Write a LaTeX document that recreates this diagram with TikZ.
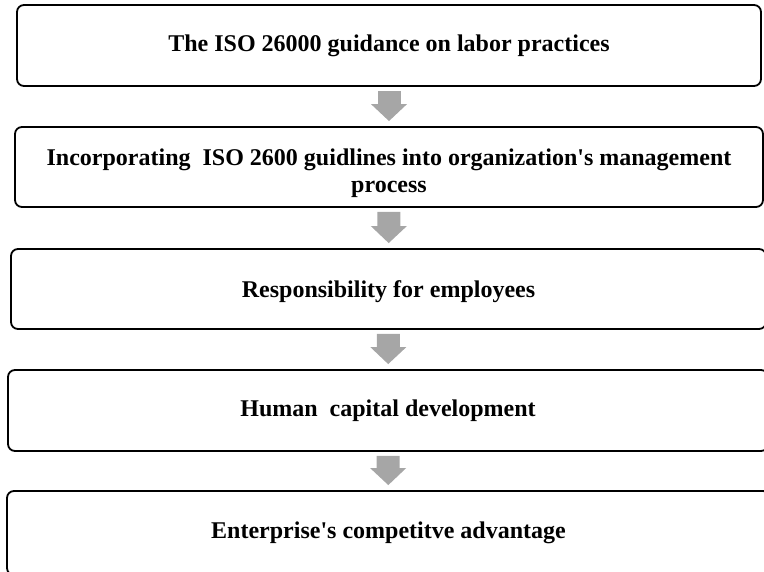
\documentclass[tikz,border=0pt]{standalone}
\usepackage{fontspec}
\setmainfont{Liberation Serif}
\usetikzlibrary{arrows.meta}
\definecolor{arrowgray}{RGB}{166,166,166}
\tikzset{
  stagebox/.style={draw,line width=1.8pt,rounded corners=7pt,align=center,
    font=\bfseries\fontsize{24}{27}\selectfont,inner sep=0pt},
  flowarrow/.style={draw=arrowgray,line width=23pt,
    -{Triangle[width=35pt,length=17pt]},shorten <=4pt,shorten >=5pt}
}
\begin{document}
\begin{tikzpicture}[x=1pt,y=-1pt]
  \useasboundingbox (0,0) rectangle (764,571);
  \clip (0,0) rectangle (764,571);
  \node[stagebox,minimum width=744pt,minimum height=81pt] (b1) at (389,45.5)
    {The ISO 26000 guidance on labor practices};
  \node[stagebox,minimum width=748pt,minimum height=80pt] (b2) at (389,167)
    {\rule{0pt}{29pt}Incorporating\ \ ISO 2600 guidlines into organization\textquotesingle s management\\process};
  \node[stagebox,minimum width=755pt,minimum height=80pt] (b3) at (388.5,289)
    {\rule{0pt}{22pt}Responsibility for employees};
  \node[stagebox,minimum width=760pt,minimum height=81pt] (b4) at (388,410.5)
    {Human\ \ capital development};
  \node[stagebox,minimum width=763pt,minimum height=84pt] (b5) at (388.5,533)
    {Enterprise\textquotesingle s competitve advantage};
  % block arrows between the stages
  \draw[flowarrow] (b1) -- (b2);
  \draw[flowarrow] (b2) -- (b3);
  \draw[flowarrow] (b3) -- (b4);
  \draw[flowarrow] (b4) -- (b5);
\end{tikzpicture}
\end{document}
